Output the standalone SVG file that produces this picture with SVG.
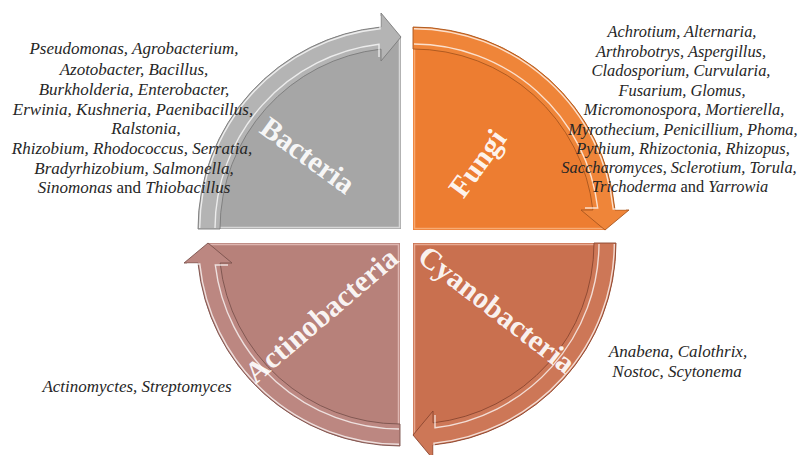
<svg xmlns="http://www.w3.org/2000/svg" width="803" height="455" viewBox="0 0 803 455">
<style>
.lst{font-family:"Liberation Serif","Times New Roman",serif;font-size:17px;font-style:italic;fill:#262626;text-anchor:middle}
.fl{font-size:16.4px}
.up{font-style:normal}
.lbl{font-family:"Liberation Serif","Times New Roman",serif;font-size:30px;font-weight:bold;fill:#ffffff;fill-opacity:0.93;text-anchor:middle}
.hl{fill:none;stroke:#ffffff;stroke-opacity:0.75;stroke-width:1.4}
.edge{fill:none;stroke-width:1.5;stroke-opacity:0.55}
</style>
<defs>
<path id="body" d="M0 0 L-203 0 A203 203 0 0 1 -20 -202.01 L0 -192 Z"/>
<path id="band" d="M-203 0 A203 203 0 0 1 -20 -202.01 L-20 -216 L0 -192 L-20 -168 L-20 -179.89 A181 181 0 0 0 -181 0 Z"/>
<path id="hl1" d="M-186 -1 A186 186 0 0 1 -22 -184.7 L-22 -172"/>
<path id="hl2" d="M-201.3 -1 A201.3 201.3 0 0 1 -21 -200.2 L-21 -213"/>
<path id="edges" d="M-1.5 -192 L-1.5 -1.5 L-201 -1.5"/>
</defs>

<g id="bacteria" transform="translate(401 229)">
<use href="#body" fill="#a6a6a6"/>
<use href="#edges" class="edge" stroke="#ffffff"/>
<use href="#band" fill="#b4b4b4" stroke="#7a7a7a" stroke-width="0.9"/>
<use href="#hl1" class="hl"/>
<use href="#hl2" class="hl"/>
</g>

<g id="fungi" transform="translate(413 230) rotate(90)">
<use href="#body" fill="#ed7d31"/>
<use href="#edges" class="edge" stroke="#ffd0a8"/>
<use href="#band" fill="#ef8539" stroke="#a8561e" stroke-width="0.9"/>
<use href="#hl1" class="hl" stroke-opacity="0.5"/>
<use href="#hl2" class="hl" stroke-opacity="0.5"/>
</g>

<g id="cyanobacteria" transform="translate(413 243) rotate(180)">
<use href="#body" fill="#c9704f"/>
<use href="#edges" class="edge" stroke="#ffd8c8"/>
<use href="#band" fill="#cd7757" stroke="#8a4630" stroke-width="0.9"/>
<use href="#hl1" class="hl" stroke-opacity="0.6"/>
<use href="#hl2" class="hl" stroke-opacity="0.6"/>
</g>

<g id="actinobacteria" transform="translate(400 243) rotate(270)">
<use href="#body" fill="#b7817a"/>
<use href="#edges" class="edge" stroke="#ffe0dc"/>
<use href="#band" fill="#bc8781" stroke="#7a524d" stroke-width="0.9"/>
<use href="#hl1" class="hl" stroke-opacity="0.6"/>
<use href="#hl2" class="hl" stroke-opacity="0.6"/>
</g>

<g id="labels">
<text class="lbl" transform="translate(308 155) rotate(36)" dy="0.35em">Bacteria</text>
<text class="lbl" transform="translate(477 163) rotate(-54)" dy="0.35em" fill="#fde6d4">Fungi</text>
<text class="lbl" transform="translate(497 309) rotate(37.5)" dy="0.35em">Cyanobacteria</text>
<text class="lbl" transform="translate(321 315) rotate(-40.5)" dy="0.35em">Actinobacteria</text>
</g>

<g id="bacteria-list">
<text x="134" y="54" class="lst">Pseudomonas, Agrobacterium,</text>
<text x="134" y="75" class="lst">Azotobacter, Bacillus,</text>
<text x="134" y="95" class="lst">Burkholderia, Enterobacter,</text>
<text x="133" y="115" class="lst">Erwinia, Kushneria, Paenibacillus,</text>
<text x="146" y="134" class="lst">Ralstonia,</text>
<text x="132" y="154" class="lst">Rhizobium, Rhodococcus, Serratia,</text>
<text x="134" y="174" class="lst">Bradyrhizobium, Salmonella,</text>
<text x="134" y="193" class="lst">Sinomonas <tspan class="up">and</tspan> Thiobacillus</text>
</g>

<g id="fungi-list">
<text x="682" y="37" class="lst fl">Achrotium, Alternaria,</text>
<text x="681" y="57" class="lst fl">Arthrobotrys, Aspergillus,</text>
<text x="681" y="76" class="lst fl">Cladosporium, Curvularia,</text>
<text x="682" y="96" class="lst fl">Fusarium, Glomus,</text>
<text x="684" y="115" class="lst fl">Micromonospora, Mortierella,</text>
<text x="683" y="135" class="lst fl">Myrothecium, Penicillium, Phoma,</text>
<text x="683" y="154" class="lst fl">Pythium, Rhizoctonia, Rhizopus,</text>
<text x="679" y="173" class="lst fl">Saccharomyces, Sclerotium, Torula,</text>
<text x="680" y="192" class="lst fl">Trichoderma <tspan class="up">and</tspan> Yarrowia</text>
</g>

<g id="cyanobacteria-list">
<text x="678" y="357" class="lst">Anabena, Calothrix,</text>
<text x="677" y="377" class="lst">Nostoc, Scytonema</text>
</g>

<g id="actinobacteria-list">
<text x="137" y="392" class="lst">Actinomyctes, Streptomyces</text>
</g>
</svg>
